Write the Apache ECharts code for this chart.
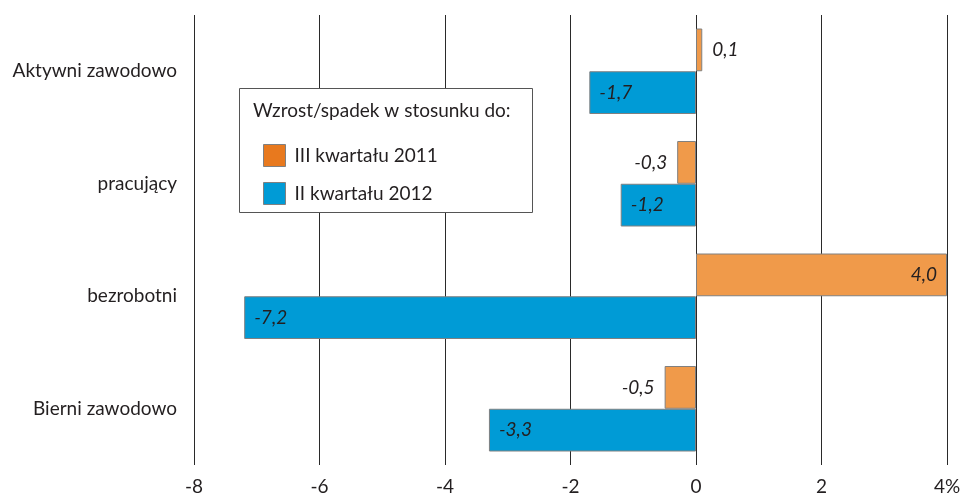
<!DOCTYPE html>
<html>
<head>
<meta charset="utf-8">
<script src="https://cdn.jsdelivr.net/npm/echarts@6/dist/echarts.min.js"></script>
<style>
    html, body { margin: 0; padding: 0; background: #ffffff; }
    #chart { width: 969px; height: 496px; }
</style>
</head>
<body>
<div id="chart"></div>
<script>
    // dane
    var categories = ['Aktywni zawodowo', 'pracujący', 'bezrobotni', 'Bierni zawodowo'];
    var seriesNames = ['III kwartału 2011', 'II kwartału 2012'];
    var q3of2011 = [0.1, -0.3, 4.0, -0.5];
    var q2of2012 = [-1.7, -1.2, -7.2, -3.3];
    var xMin = -8, xMax = 4, xStep = 2;

    var FONT = 'Lato';
    var FS = 19;
    var fmt = function (v) { return v.toFixed(1).replace('.', ','); };

    // mały słupek -> etykieta na zewnątrz, duży -> w środku przy końcu
    function withLabels(values) {
        return values.map(function (v) {
            var pos;
            if (Math.abs(v) < 1) {
                pos = v >= 0 ? 'right' : 'left';
            } else {
                pos = v >= 0 ? 'insideRight' : 'insideLeft';
            }
            return { value: v, label: { position: pos } };
        });
    }

    var chart = echarts.init(document.getElementById('chart'));
    var barLabel = {
        show: true,
        fontFamily: FONT,
        fontStyle: 'italic',
        fontSize: FS,
        color: '#231f20',
        distance: 10,
        formatter: function (p) { return fmt(p.value); }
    };

    chart.setOption({
        animation: false,
        grid: { left: 194, right: 22, top: 15, bottom: 28, containLabel: false },
        legend: {
            data: [
                { name: seriesNames[0], itemStyle: { color: '#e8791e', borderColor: '#808080', borderWidth: 1 } },
                { name: seriesNames[1], itemStyle: { color: '#009bd6', borderColor: '#808080', borderWidth: 1 } }
            ],
            orient: 'vertical',
            left: 258,
            top: 139,
            itemWidth: 22,
            itemHeight: 22,
            itemGap: 15,
            icon: 'rect',
            z: 20,
            textStyle: { fontFamily: FONT, fontSize: FS, color: '#231f20', padding: [0, 0, 0, 4] }
        },
        graphic: [
            {
                type: 'rect',
                shape: { x: 239.5, y: 88.5, width: 293, height: 124 },
                style: { fill: '#ffffff', stroke: '#555555', lineWidth: 1 },
                z: 5
            },
            {
                type: 'text',
                left: 253,
                top: 101,
                style: { text: 'Wzrost/spadek w stosunku do:', font: FS + 'px ' + FONT, fill: '#231f20' },
                z: 6
            }
        ],
        xAxis: {
            type: 'value',
            min: xMin,
            max: xMax,
            interval: xStep,
            axisLine: { show: false },
            axisTick: { show: false },
            splitLine: { show: true, lineStyle: { color: '#2a2a2a', width: 1 } },
            axisLabel: {
                fontFamily: FONT,
                fontSize: FS,
                color: '#231f20',
                margin: 12,
                formatter: function (v) { return v === xMax ? v + '%' : String(v); }
            }
        },
        yAxis: {
            type: 'category',
            data: categories,
            inverse: true,
            axisLine: { show: false },
            axisTick: { show: false },
            axisLabel: { fontFamily: FONT, fontSize: FS, color: '#231f20', margin: 17 }
        },
        series: [
            {
                name: seriesNames[0],
                type: 'bar',
                data: withLabels(q3of2011),
                barGap: '0%',
                barCategoryGap: '24%',
                itemStyle: { color: '#f09a4a', borderColor: '#808080', borderWidth: 1 },
                label: barLabel,
                z: 3
            },
            {
                name: seriesNames[1],
                type: 'bar',
                data: withLabels(q2of2012),
                barGap: '0%',
                barCategoryGap: '24%',
                itemStyle: { color: '#009bd6', borderColor: '#808080', borderWidth: 1 },
                label: barLabel,
                z: 3
            }
        ]
    });
</script>
</body>
</html>
